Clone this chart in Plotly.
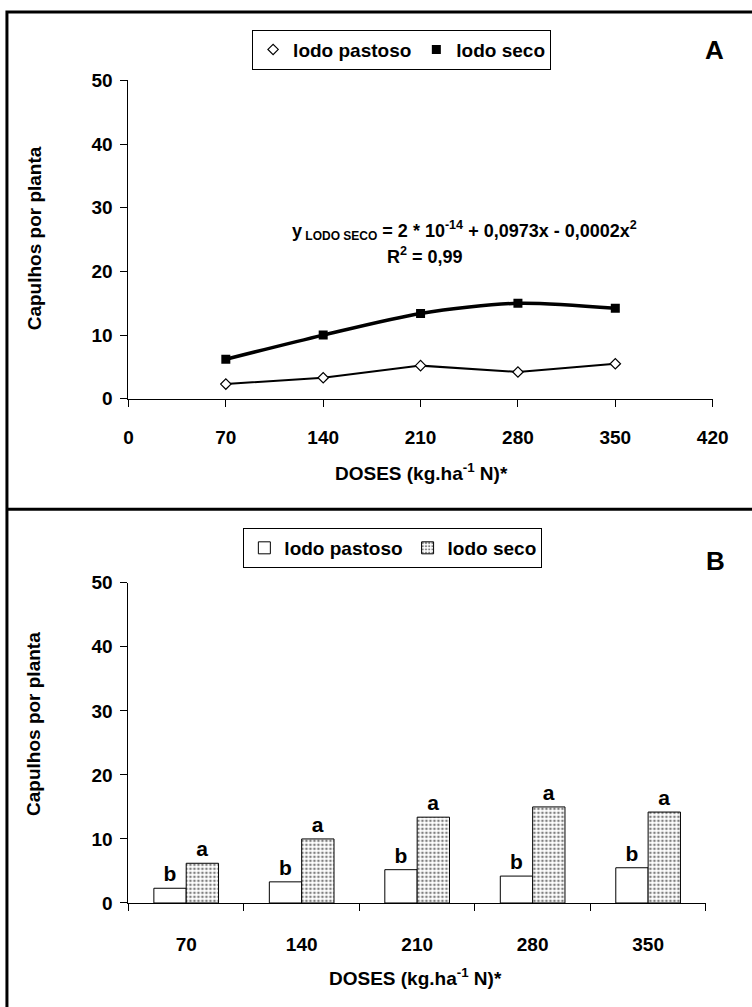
import plotly.graph_objects as go

doses = [70, 140, 210, 280, 350]
dose_labels = ["70", "140", "210", "280", "350"]
lodo_pastoso = [2.3, 3.3, 5.2, 4.2, 5.5]
lodo_seco = [6.2, 10.0, 13.4, 15.0, 14.2]
letters_pastoso = ["b", "b", "b", "b", "b"]
letters_seco = ["a", "a", "a", "a", "a"]
y_ticks = [0, 10, 20, 30, 40, 50]
x_ticks_a = [0, 70, 140, 210, 280, 350, 420]

W, H = 752, 1007
FONT = "Liberation Sans, Arial, sans-serif"

def px(x):
    return x / W

def py(y):
    return 1 - y / H

fig = go.Figure()

# Panel A
fig.add_trace(go.Scatter(
    x=doses, y=lodo_pastoso, mode="lines+markers", xaxis="x", yaxis="y",
    line=dict(color="black", width=2),
    marker=dict(symbol="diamond", size=8, color="white", line=dict(color="black", width=1.2)),
    showlegend=False))
fig.add_trace(go.Scatter(
    x=doses, y=lodo_seco, mode="lines+markers", xaxis="x", yaxis="y",
    line=dict(color="black", width=3.5, shape="spline", smoothing=0.8),
    marker=dict(symbol="square", size=9, color="black"),
    showlegend=False))
fig.add_trace(go.Scatter(
    x=[None], y=[None], mode="markers", name="lodo pastoso", xaxis="x", yaxis="y",
    marker=dict(symbol="diamond", size=8, color="white", line=dict(color="black", width=1.2)),
    legend="legend"))
fig.add_trace(go.Scatter(
    x=[None], y=[None], mode="markers", name="lodo seco", xaxis="x", yaxis="y",
    marker=dict(symbol="square", size=9, color="black"),
    legend="legend"))

# Panel B
fig.add_trace(go.Bar(
    x=dose_labels, y=lodo_pastoso, name="lodo pastoso", xaxis="x2", yaxis="y2",
    marker=dict(color="white", line=dict(color="black", width=1)),
    text=letters_pastoso, textposition="outside", cliponaxis=False,
    textfont=dict(family=FONT, size=21, color="black", weight="bold"),
    legend="legend2"))
fig.add_trace(go.Bar(
    x=dose_labels, y=lodo_seco, name="lodo seco", xaxis="x2", yaxis="y2",
    marker=dict(color="white", line=dict(color="black", width=1),
                pattern=dict(shape=".", fgcolor="black", bgcolor="white", size=4, solidity=0.35)),
    text=letters_seco, textposition="outside", cliponaxis=False,
    textfont=dict(family=FONT, size=21, color="black", weight="bold"),
    legend="legend2"))

tickfont = dict(family=FONT, size=19, color="black", weight="bold")
titlefont = dict(family=FONT, size=19, color="black", weight="bold")

common_axis = dict(showgrid=False, zeroline=False, showline=True, linecolor="black",
                   linewidth=1, ticks="outside", tickcolor="black", tickfont=tickfont)

legfont = dict(family=FONT, size=19, color="black", weight="bold")

fig.update_layout(
    width=W, height=H, margin=dict(l=0, r=0, t=0, b=0),
    paper_bgcolor="white", plot_bgcolor="white",
    font=dict(family=FONT, color="black"),
    barmode="group", bargap=0.44, bargroupgap=0.0,
    xaxis=dict(common_axis, domain=[px(127), px(728)], range=[0, 420],
               tickvals=x_ticks_a, ticklen=7, anchor="y", ticklabelstandoff=14),
    yaxis=dict(common_axis, domain=[py(397), py(72)], range=[0, 50],
               tickvals=y_ticks, ticklen=7, anchor="x", ticklabelstandoff=4),
    xaxis2=dict(common_axis, domain=[px(127), px(721)], type="category",
                tickson="boundaries", ticklen=7, anchor="y2", ticklabelstandoff=24),
    yaxis2=dict(common_axis, domain=[py(912), py(585)], range=[0, 50],
                tickvals=y_ticks, ticklen=7, anchor="x2", ticklabelstandoff=4),
    legend=dict(orientation="h", x=px(408), y=py(20), xanchor="center", yanchor="top",
                bordercolor="black", borderwidth=1, bgcolor="white",
                font=legfont, itemwidth=30, tracegroupgap=0),
    legend2=dict(orientation="h", x=px(399), y=py(529), xanchor="center", yanchor="top",
                 bordercolor="black", borderwidth=1, bgcolor="white",
                 font=legfont, itemwidth=30, tracegroupgap=0),
    showlegend=True,
)

def ann(text, x, y, font, angle=0):
    return dict(text=text, x=px(x), y=py(y), showarrow=False, xref="paper", yref="paper",
                xanchor="center", yanchor="middle", textangle=angle, font=font)

eqfont = dict(family=FONT, size=18, color="black", weight="bold")
bigfont = dict(family=FONT, size=26, color="black", weight="bold")

annotations = [
    ann("A", 730, 41, bigfont),
    ann("B", 731, 563, bigfont),
    ann("Capulhos por planta", 30, 233, titlefont, -90),
    ann("Capulhos por planta", 30, 729, titlefont, -90),
    ann("DOSES (kg.ha<sup>-1</sup> N)*", 428, 472, titlefont),
    ann("DOSES (kg.ha<sup>-1</sup> N)*", 422, 988, titlefont),
    ann("y<sub><span style='font-size:12px'> LODO SECO</span></sub> = 2 * 10<sup>-14</sup> + 0,0973x - 0,0002x<sup>2</sup>",
        473, 225, eqfont),
    ann("R<sup>2</sup> = 0,99", 432, 251, eqfont),
]
fig.update_layout(annotations=annotations)

shapes = [
    dict(type="rect", xref="paper", yref="paper", x0=px(2), x1=px(790), y0=py(1040), y1=py(2),
         line=dict(color="black", width=3)),
    dict(type="line", xref="paper", yref="paper", x0=px(2), x1=px(790), y0=py(510), y1=py(510),
         line=dict(color="black", width=3)),
]
fig.update_layout(shapes=shapes)

fig.write_html("out.html")
